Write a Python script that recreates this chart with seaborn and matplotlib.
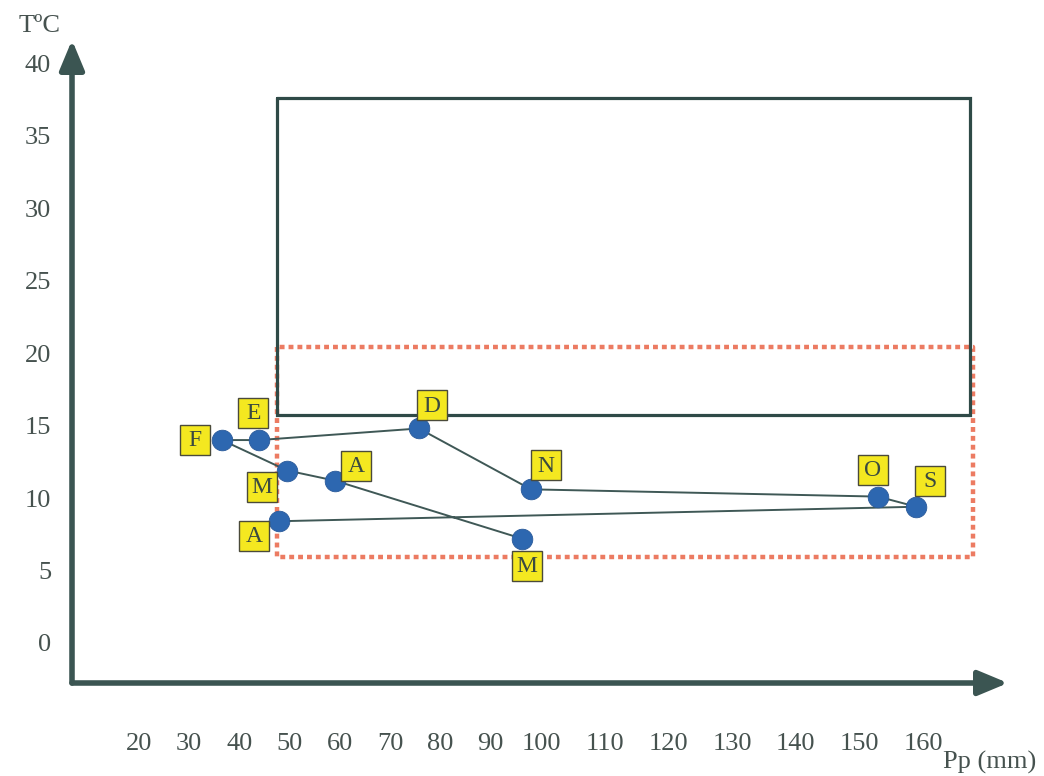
import numpy as np
import pandas as pd
import matplotlib
matplotlib.use("Agg")
import matplotlib.pyplot as plt
from matplotlib.transforms import offset_copy
import seaborn as sns

# ── data (Aug -> May, Jun/Jul not plotted) ───────────────────────────────────
months = ["A", "S", "O", "N", "D", "E", "F", "M", "A", "M"]
pp_mm  = [47.9, 158.9, 152.9, 98.0, 75.7, 43.9, 36.5, 49.5, 59.0, 96.2]
temp_c = [8.4, 9.4, 10.1, 10.6, 14.8, 14.0, 14.0, 11.9, 11.2, 7.2]

x_ticks = list(range(20, 170, 10))
y_ticks = list(range(0, 45, 5))

# zones: (pp_left, pp_right, t_bottom, t_top)
hot_zone  = (47.5, 167.3, 15.7, 37.6)
cool_zone = (47.5, 167.8, 5.9, 20.4)

# label box offsets in pixels (dx, dy)
label_offsets = [(-25, -15), (14, 26), (-5, 27), (15, 24), (13, 23),
                 (-6, 27), (-27, 0), (-25, -16), (21, 15), (5, -27)]

df = pd.DataFrame({"month": months, "pp": pp_mm, "t": temp_c})

# the x axis of the original is stretched above 100 mm
STRETCH = 1.2677
def fwd(p):
    p = np.asarray(p, dtype=float)
    return np.where(p <= 100, p, 100 + (p - 100) * STRETCH)
def inv(v):
    v = np.asarray(v, dtype=float)
    return np.where(v <= 100, v, 100 + (v - 100) / STRETCH)

sns.set_style("white")
plt.rcParams["font.family"] = ["Liberation Serif", "DejaVu Serif"]

W, H = 1044, 776
fig = plt.figure(figsize=(W / 100, H / 100), dpi=100)
ax = fig.add_axes([72 / W, (H - 683) / H, (1008 - 72) / W, (683 - 40) / H])
ax.set_xscale("function", functions=(fwd, inv))
ax.set_xlim(6.67, 173.3)
ax.set_ylim(-2.76, 41.6)

axis_col = "#3b5552"
line_col = "#3f5856"
text_col = "#46524f"

# zones
x0, x1, y0, y1 = hot_zone
ax.plot([x0, x0, x1, x1, x0], [y1, y0, y0, y1, y1], color="#2f4a47", lw=2.3,
        solid_joinstyle="miter", zorder=2)
x0, x1, y0, y1 = cool_zone
ax.plot([x0, x0, x1, x1, x0], [y1, y0, y0, y1, y1], color="#ec7b62", lw=3.2,
        linestyle=(0, (1.1, 0.9)), zorder=1.5)

# path and points
sns.lineplot(data=df, x="pp", y="t", sort=False, estimator=None, color=line_col,
             lw=1.4, ax=ax, zorder=3)
sns.scatterplot(data=df, x="pp", y="t", s=220, color="#2d67b0", edgecolor="#2a5a9a",
                linewidth=0.6, ax=ax, zorder=4)

# month labels in yellow boxes
for (x, y, lab), (dx, dy) in zip(df[["pp", "t", "month"]].values, label_offsets):
    tr = offset_copy(ax.transData, fig=fig, x=dx, y=dy, units="dots")
    ax.plot([x], [y], marker="s", ms=21.5, mfc="#f4e820", mec="#4a4a3a", mew=1.0,
            transform=tr, zorder=5)
    ax.text(x, y - 0.05, lab, transform=tr, ha="center", va="center", fontsize=17,
            color="#3a4a40", zorder=6)

# axes with arrows
for s in ax.spines.values():
    s.set_visible(False)
head = "-|>,head_length=1.8,head_width=0.75"
ax.annotate("", xy=(0, 1), xytext=(0, 0), xycoords="axes fraction",
            arrowprops=dict(arrowstyle=head, color=axis_col, lw=4, shrinkA=0, shrinkB=0))
ax.annotate("", xy=(1, 0), xytext=(0, 0), xycoords="axes fraction",
            arrowprops=dict(arrowstyle=head, color=axis_col, lw=4, shrinkA=0, shrinkB=0))

ax.set_xticks(x_ticks)
ax.set_xticklabels([str(v) for v in x_ticks])
ax.set_yticks(y_ticks)
ax.set_yticklabels([str(v) for v in y_ticks])
ax.tick_params(axis="x", length=0, pad=36, labelsize=19, labelcolor=text_col)
ax.tick_params(axis="y", length=0, pad=15, labelsize=19, labelcolor=text_col)
ax.set_xlabel("")
ax.set_ylabel("")
ax.grid(False)

fig.text(40 / W, 1 - 26 / H, "T\u00baC", ha="center", va="center", fontsize=19,
         color=text_col)
fig.text(990 / W, 1 - 762 / H, "Pp (mm)", ha="center", va="center", fontsize=19,
         color=text_col)

fig.savefig("out.png", dpi=100)
